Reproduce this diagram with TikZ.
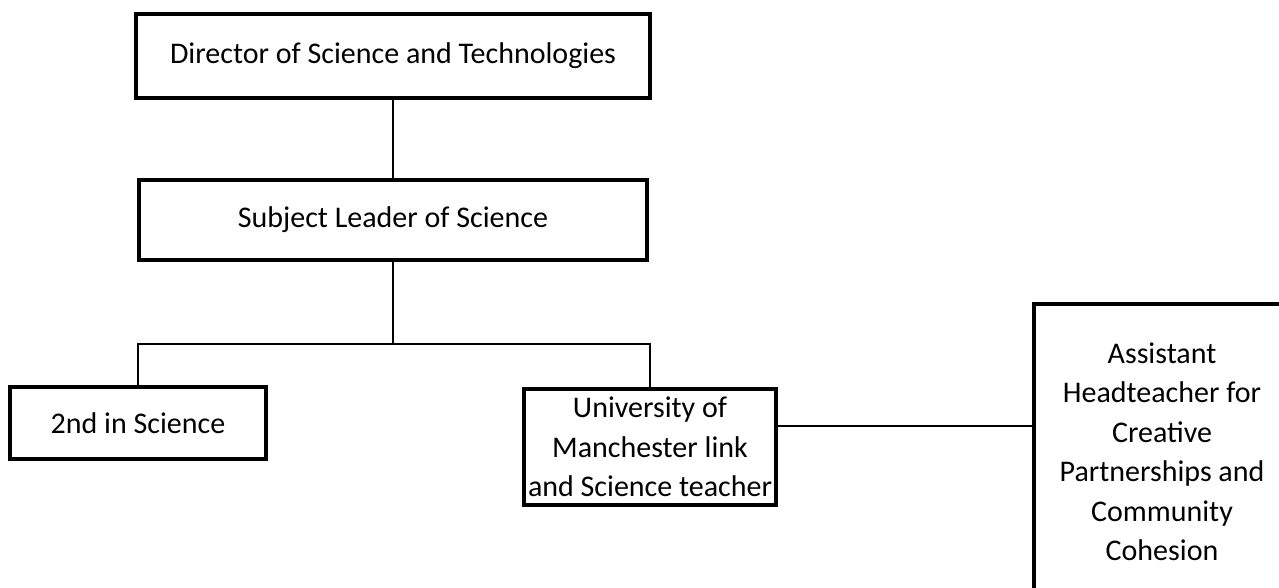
\documentclass[tikz,border=0pt]{standalone}
\usepackage{fontspec}
\setmainfont{Carlito}
\begin{document}
\begin{tikzpicture}[x=1pt, y=-1pt,
	orgbox/.style={draw, line width=4pt, align=center, inner sep=0pt,
		font=\fontsize{30}{39.5}\selectfont},
	link/.style={line width=2.5pt}]
	\useasboundingbox (0,0) rectangle (1279,587);
	\clip (0,0) rectangle (1279,587);
	%boxes
	\node[orgbox, minimum width=514pt, minimum height=84pt] (director) at (393,56)
	{Director of Science and Technologies};
	\node[orgbox, minimum width=508pt, minimum height=80pt] (subject) at (393,220)
	{Subject Leader of Science};
	\node[orgbox, minimum width=256pt, minimum height=72pt] (second) at (138,423)
	{2nd in Science};
	\node[orgbox, minimum width=252pt, minimum height=116pt] (uni) at (650,447)
	{University of\\Manchester link\\and Science teacher};
	\node[orgbox, minimum width=256pt, minimum height=296pt] (assist) at (1162,452)
	{Assistant\\Headteacher for\\Creative\\Partnerships and\\Community\\Cohesion};
	%links
	\coordinate (fork) at (393,344);
	\coordinate (unilink) at ([yshift=21pt]uni.east);
	\draw[link] (director.south) -- (subject.north);
	\draw[link] (subject.south) -- (fork);
	\draw[link] (second.north) -- (second.north |- fork) -- (uni.north |- fork) -- (uni.north);
	\draw[link] (unilink) -- (unilink -| assist.west);
\end{tikzpicture}
\end{document}
